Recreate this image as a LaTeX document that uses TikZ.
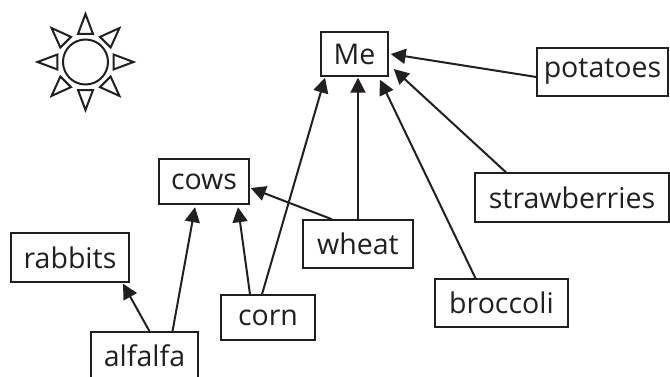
\documentclass[tikz,border=0pt]{standalone}
\usepackage{fontspec}
\setmainfont{Open Sans}
\usetikzlibrary{arrows.meta,calc}
\definecolor{ink}{HTML}{231F20}
\begin{document}
\begin{tikzpicture}[x=1pt,y=-1pt,
  box/.style={draw=ink, line width=1.4pt, inner sep=0pt, text=ink,
    font=\fontsize{28.5}{30}\selectfont},
  arr/.style={draw=ink, line width=2pt, -{Triangle[length=15pt,width=15pt]}},
  sunline/.style={draw=ink, line width=2pt, line join=miter}]
\useasboundingbox (0,0) rectangle (670,377);
\clip (0,0) rectangle (670,377);
\fill[white] (0,0) rectangle (670,377);

% sun
\node[sunline, circle, minimum size=45pt, inner sep=0pt] (sun) at (85.5,62) {};
\foreach \a in {0,45,...,315}{
  \draw[sunline] ($(sun.center)+(\a+15:29pt)$) -- ($(sun.center)+(\a:48pt)$)
     -- ($(sun.center)+(\a-15:29pt)$) -- cycle;
}

% nodes
\node[box, minimum width=67pt,  minimum height=44pt] (me)    at (354.5,54)  {Me};
\node[box, minimum width=131pt, minimum height=48pt] (pot)   at (602.5,72)  {potatoes};
\node[box, minimum width=90pt,  minimum height=45pt] (cows)  at (204,181.5) {cows};
\node[box, minimum width=118pt, minimum height=49pt] (rab)   at (70,257.5)  {rabbits};
\node[box, minimum width=107pt, minimum height=48pt] (alf)   at (144.5,356) {alfalfa};
\node[box, minimum width=94pt,  minimum height=45pt] (corn)  at (268,317.5) {corn};
\node[box, minimum width=110pt, minimum height=48pt] (wheat) at (358,244)   {wheat};
\node[box, minimum width=194pt, minimum height=49pt] (straw) at (572,197.5) {strawberries};
\node[box, minimum width=133pt, minimum height=48pt] (broc)  at (501.5,303) {broccoli};

% connectors
\draw[arr] ([yshift=-5pt]pot.west) -- ([xshift=2pt]me.east);
\draw[arr] ([xshift=-66pt]straw.north) -- ([xshift=5pt,yshift=-15pt]me.east);
\draw[arr] ([xshift=-26pt]broc.north) -- ([xshift=25.5pt,yshift=-3pt]me.south);
\draw[arr] (wheat.north) -- ([xshift=3.5pt,yshift=-1pt]me.south);
\draw[arr] ([xshift=-6pt]corn.north) -- ([xshift=-29.5pt,yshift=-1pt]me.south);
\draw[arr] ([xshift=-26pt]wheat.north) -- ([xshift=1pt,yshift=-6.5pt]cows.east);
\draw[arr] ([xshift=-18pt]corn.north) -- ([xshift=34pt,yshift=-2.5pt]cows.south);
\draw[arr] ([xshift=28pt]alf.north) -- ([xshift=-9pt,yshift=-2.5pt]cows.south);
\draw[arr] ([xshift=5pt]alf.north) -- ([xshift=53pt,yshift=-1pt]rab.south);
\end{tikzpicture}
\end{document}
